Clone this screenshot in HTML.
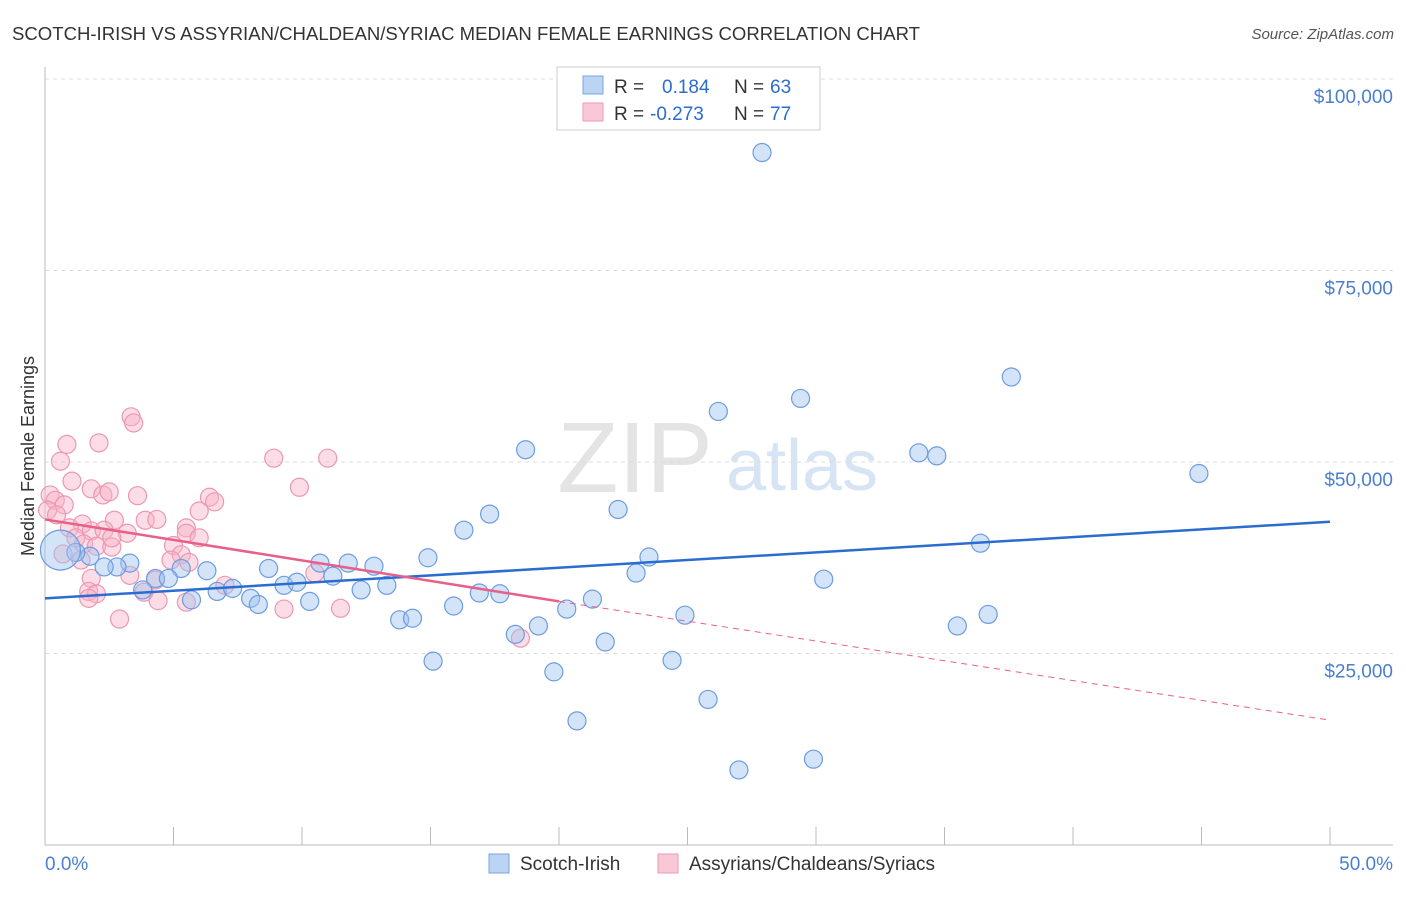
<!DOCTYPE html>
<html><head><meta charset="utf-8"><style>
body{margin:0;background:#fff;font-family:"Liberation Sans",sans-serif}
svg text{font-family:"Liberation Sans",sans-serif}
</style></head><body>
<svg id="chart" width="1406" height="892" xmlns="http://www.w3.org/2000/svg">
<text x="12" y="40" font-size="18" fill="#333" textLength="908" lengthAdjust="spacingAndGlyphs">SCOTCH-IRISH VS ASSYRIAN/CHALDEAN/SYRIAC MEDIAN FEMALE EARNINGS CORRELATION CHART</text>
<text x="1394" y="39" font-size="15" fill="#555" text-anchor="end" font-style="italic">Source: ZipAtlas.com</text>
<text x="635" y="492" font-size="100" fill="#e4e4e4" font-family="Liberation Serif" text-anchor="middle">ZIP</text>
<text x="802" y="490" font-size="72" fill="#d6e4f4" text-anchor="middle">atlas</text>
<g id="grid"></g><g id="axes"></g><g id="pts"></g><g id="lines"></g>
<text transform="translate(34,456) rotate(-90)" font-size="18" fill="#333" text-anchor="middle">Median Female Earnings</text>
<text x="45" y="870" font-size="19" fill="#4a7fd0">0.0%</text>
<text x="1393" y="870" font-size="19" fill="#4a7fd0" text-anchor="end">50.0%</text>
<g>
<rect x="557" y="67" width="263" height="63" fill="#fff" stroke="#ccc"/>
<rect x="583" y="76" width="20" height="18" fill="#bcd4f4" stroke="#7aa4e0"/>
<rect x="583" y="103" width="20" height="18" fill="#f9c8d6" stroke="#ec9ab4"/>
<text x="614" y="93" font-size="19" fill="#333">R =</text>
<text x="662" y="93" font-size="19" fill="#2a6ccf">0.184</text>
<text x="734" y="93" font-size="19" fill="#333">N =</text>
<text x="770" y="93" font-size="19" fill="#2a6ccf">63</text>
<text x="614" y="120" font-size="19" fill="#333">R =</text>
<text x="650" y="120" font-size="19" fill="#2a6ccf">-0.273</text>
<text x="734" y="120" font-size="19" fill="#333">N =</text>
<text x="770" y="120" font-size="19" fill="#2a6ccf">77</text>
</g>
<g>
<rect x="489" y="854" width="20" height="19" fill="#bcd4f4" stroke="#7aa4e0"/>
<text x="520" y="870" font-size="19" fill="#333">Scotch-Irish</text>
<rect x="658" y="854" width="20" height="19" fill="#f9c8d6" stroke="#ec9ab4"/>
<text x="689" y="870" font-size="19" fill="#333">Assyrians/Chaldeans/Syriacs</text>
</g>
</svg>
<script>
const yTicks=[25000,50000,75000,100000];
const yTickLabels=["$25,000","$50,000","$75,000","$100,000"];
const xTicks=[0,5,10,15,20,25,30,35,40,45,50];
const blueX=[27.9,37.6,29.4,26.2,18.7,34.0,34.7,44.9,22.3,17.3,16.3,36.4,23.5,14.9,23.0,30.3,10.7,11.8,12.8,8.7,6.3,5.3,3.3,2.8,2.3,1.75,1.2,4.3,4.8,3.8,6.7,7.3,8.0,8.3,9.3,9.8,11.2,12.3,13.3,10.3,5.7,16.9,17.7,15.9,20.3,21.3,13.8,14.3,18.3,19.2,21.8,24.9,35.5,36.7,15.1,24.4,19.8,25.8,20.7,27.0,29.9,0.6];
const blueY=[90400,61100,58300,56600,51600,51200,50800,48500,43800,43200,41100,39400,37600,37500,35500,34700,36800,36800,36400,36100,35800,36100,36800,36300,36300,37700,38200,34800,34800,33300,33100,33500,32200,31400,33900,34300,35100,33300,33900,31800,32000,32900,32800,31200,30800,32100,29400,29600,27500,28600,26500,30000,28600,30100,24000,24100,22600,19000,16200,9800,11200,38500];
const pinkX=[3.35,3.45,0.85,2.1,0.6,8.9,11.0,9.9,1.05,1.8,2.25,2.5,3.6,6.4,6.6,0.2,0.4,0.75,0.1,0.45,6.0,3.9,4.35,2.7,1.45,0.95,5.5,5.5,6.0,3.2,1.8,2.3,1.2,1.5,2.0,2.6,2.6,5.0,5.3,4.9,5.6,0.7,1.4,3.3,1.8,10.5,7.0,4.3,1.7,2.0,1.7,3.85,4.4,5.5,9.3,11.5,2.9,18.5];
const pinkY=[55900,55100,52300,52500,50100,50500,50500,46700,47500,46500,45700,46100,45600,45400,44800,45700,45000,44400,43700,43100,43600,42400,42500,42400,41900,41400,41400,40700,40100,40700,41000,41100,40100,39300,39000,38900,40100,39100,37900,37200,36900,38000,37200,35200,34800,35500,33900,34600,33100,32800,32200,33000,31900,31700,30800,30900,29500,27000];
const blueTrend=[[0,32200],[50,42200]];
const pinkTrend=[[0,42500],[20,31800],[50,16300]];
const X=v=>45+v*25.7, Y=v=>845-v*766/100000;
const NS="http://www.w3.org/2000/svg";
function mk(t,a,p){const e=document.createElementNS(NS,t);for(const k in a)e.setAttribute(k,a[k]);document.getElementById(p).appendChild(e);return e;}
yTicks.forEach((v,i)=>{
 const g=mk('line',{x1:45,x2:1393,y1:Y(v),y2:Y(v),stroke:'#ddd','stroke-dasharray':'4,4'},'grid');
 
 
 const t=mk('text',{x:1393,y:Y(v)+24,'font-size':19,fill:'#4a7fd0','text-anchor':'end'},'axes');
 t.textContent=yTickLabels[i];
 
 
});
const ya=mk('line',{x1:45,x2:45,y1:67,y2:845,stroke:'#bbb'},'axes');


const xa=mk('line',{x1:45,x2:1393,y1:845,y2:845,stroke:'#bbb'},'axes');


xTicks.forEach(v=>{const t=mk('line',{x1:X(v),x2:X(v),y1:827,y2:845,stroke:'#bbb'},'axes');
 
 });
pinkX.forEach((x,i)=>{const c=mk('circle',{cx:X(x),cy:Y(pinkY[i]),r:9,fill:'rgba(248,178,200,0.45)',stroke:'#ec98b2','stroke-width':1.2},'pts');
 
 });
blueX.forEach((x,i)=>{const big=i===blueX.length-1;const c=mk('circle',{cx:X(x),cy:Y(blueY[i]),r:big?20:9,fill:'rgba(160,196,240,0.45)',stroke:'#6c9ce2','stroke-width':1.2},'pts');
 
 });
const bl=mk('line',{x1:X(blueTrend[0][0]),y1:Y(blueTrend[0][1]),x2:X(blueTrend[1][0]),y2:Y(blueTrend[1][1]),stroke:'#2a6ccf','stroke-width':2.5},'lines');


const pl=mk('line',{x1:X(pinkTrend[0][0]),y1:Y(pinkTrend[0][1]),x2:X(pinkTrend[1][0]),y2:Y(pinkTrend[1][1]),stroke:'#e8608a','stroke-width':2.5},'lines');


const pd=mk('line',{x1:X(pinkTrend[1][0]),y1:Y(pinkTrend[1][1]),x2:X(pinkTrend[2][0]),y2:Y(pinkTrend[2][1]),stroke:'#e8608a','stroke-width':1,'stroke-dasharray':'6,5'},'lines');


</script>
</body></html>
